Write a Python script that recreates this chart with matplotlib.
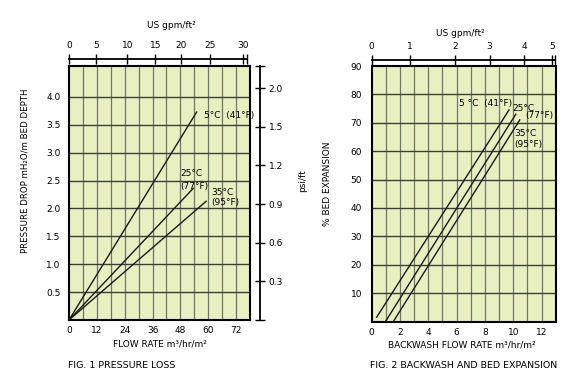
import numpy as np
import matplotlib.pyplot as plt

# ---- data, fig 1 (pressure loss) ----
p5_x = [0, 55.0]
p5_y = [0, 3.73]
p25_x = [0, 53.5]
p25_y = [0, 2.36]
p35_x = [0, 59.1]
p35_y = [0, 2.13]
bot1_ticks = [0, 12, 24, 36, 48, 60, 72]
left1_ticks = [0.5, 1.0, 1.5, 2.0, 2.5, 3.0, 3.5, 4.0]
psi_ticks = [0.3, 0.6, 0.9, 1.2, 1.5, 1.8]
psi_labels = ["0.3", "0.6", "0.9", "1.2", "1.5", "2.0"]
gpm1_labels = ["0", "5", "10", "15", "20", "25", "30"]
gpm1_pos = [0, 11.8, 25.2, 37.2, 48.4, 60.8, 75.1]

# ---- data, fig 2 (backwash) ----
b5_x = [0.35, 9.70]
b5_y = [1.5, 74.5]
b25_x = [1.0, 10.18]
b25_y = [0.2, 73.0]
b35_x = [1.53, 10.46]
b35_y = [0.0, 71.0]
bot2_ticks = [0, 2, 4, 6, 8, 10, 12]
left2_ticks = [10, 20, 30, 40, 50, 60, 70, 80, 90]
gpm2_labels = ["0", "1", "2", "3", "4", "5"]
gpm2_pos = [0, 2.7, 5.87, 8.33, 10.77, 12.76]

W, H = 581, 373
bg = '#e8efc0'
vgrid = '#6f776a'
hgrid = '#3a4036'
ink = '#1a1a1a'
fs = 6.5


def px(x, y):
    return x / W, 1 - y / H


fig = plt.figure(figsize=(W / 100, H / 100), dpi=100)

ax1 = fig.add_axes([69 / W, 1 - 320 / H, 181 / W, 254 / H])
ax2 = fig.add_axes([371.7 / W, 1 - 321.5 / H, 184 / W, 255.5 / H])

# ---------- fig 1 ----------
ax1.set_facecolor(bg)
ax1.set_xlim(0, 78)
ax1.set_ylim(0, 4.556)
for x in np.arange(6, 78, 6):
    ax1.axvline(x, color=vgrid, lw=0.9, zorder=1)
for y in np.arange(0.5, 4.5, 0.5):
    ax1.axhline(y, color=hgrid, lw=1.0, zorder=1)
ax1.plot(p5_x, p5_y, color=ink, lw=1.0, zorder=3)
ax1.plot(p25_x, p25_y, color=ink, lw=1.0, zorder=3)
ax1.plot(p35_x, p35_y, color=ink, lw=1.0, zorder=3)
ax1.set_xticks(bot1_ticks)
ax1.set_yticks(left1_ticks, labels=[f"{v:.1f}" for v in left1_ticks])
ax1.tick_params(axis='x', length=0, labelsize=fs, pad=4)
ax1.tick_params(axis='y', length=0, labelsize=fs, pad=6)
for s in ax1.spines.values():
    s.set_linewidth(1.5)

ax1.text(58.2, 3.66, "5°C  (41°F)", fontsize=fs, va='center', ha='left')
ax1.text(47.8, 2.62, "25°C", fontsize=fs, va='center', ha='left')
ax1.text(47.8, 2.40, "(77°F)", fontsize=fs, va='center', ha='left')
ax1.text(61.5, 2.28, "35°C", fontsize=fs, va='center', ha='left')
ax1.text(61.5, 2.10, "(95°F)", fontsize=fs, va='center', ha='left')

psi = ax1.secondary_yaxis(1.054, functions=(lambda m: m * 0.433, lambda p: p / 0.433))
psi.set_yticks([0] + psi_ticks + [1.972], labels=[""] + psi_labels + [""])
psi.tick_params(direction='inout', length=7, width=1.0, labelsize=fs, pad=3)
psi.spines['right'].set_linewidth(1.3)

top1 = ax1.secondary_xaxis(1.0276, functions=(lambda v: v, lambda v: v))
top1.set_xticks(gpm1_pos + [76.8], labels=gpm1_labels + [""])
top1.tick_params(direction='inout', length=6.5, width=1.0, labelsize=fs, pad=3)
top1.spines['top'].set_bounds(0, 76.8)
top1.spines['top'].set_linewidth(1.3)

# ---------- fig 2 ----------
ax2.set_facecolor(bg)
ax2.set_xlim(0, 13)
ax2.set_ylim(0, 90)
for x in np.arange(1, 13, 1):
    ax2.axvline(x, color=vgrid, lw=0.9, zorder=1)
for y in np.arange(10, 90, 10):
    ax2.axhline(y, color=hgrid, lw=1.0, zorder=1)
ax2.plot(b5_x, b5_y, color=ink, lw=1.0, zorder=3)
ax2.plot(b25_x, b25_y, color=ink, lw=1.0, zorder=3)
ax2.plot(b35_x, b35_y, color=ink, lw=1.0, zorder=3)
ax2.set_xticks(bot2_ticks)
ax2.set_yticks(left2_ticks)
ax2.tick_params(axis='x', length=0, labelsize=fs, pad=5)
ax2.tick_params(axis='y', length=0, labelsize=fs, pad=7)
for s in ax2.spines.values():
    s.set_linewidth(1.5)

ax2.text(6.15, 76.8, "5 °C  (41°F)", fontsize=fs, va='center', ha='left')
ax2.text(9.95, 75.1, "25°C", fontsize=fs, va='center', ha='left')
ax2.text(10.85, 72.4, "(77°F)", fontsize=fs, va='center', ha='left')
ax2.text(10.1, 66.3, "35°C", fontsize=fs, va='center', ha='left')
ax2.text(10.05, 62.5, "(95°F)", fontsize=fs, va='center', ha='left')

top2 = ax2.secondary_xaxis(1.0235, functions=(lambda v: v, lambda v: v))
top2.set_xticks(gpm2_pos + [12.98], labels=gpm2_labels + [""])
top2.tick_params(direction='inout', length=6.5, width=1.0, labelsize=fs, pad=3)
top2.spines['top'].set_bounds(0, 12.98)
top2.spines['top'].set_linewidth(1.3)

# ---------- titles / labels ----------
fig.text(*px(171, 25), "US gpm/ft²", fontsize=fs, ha='center', va='center')
fig.text(*px(460, 34), "US gpm/ft²", fontsize=fs, ha='center', va='center')
fig.text(*px(160, 344), "FLOW RATE m³/hr/m²", fontsize=fs, ha='center', va='center')
fig.text(*px(462, 345), "BACKWASH FLOW RATE m³/hr/m²", fontsize=fs, ha='center', va='center')
fig.text(*px(25, 171), "PRESSURE DROP mH₂O/m BED DEPTH", fontsize=6.2,
         rotation=90, ha='center', va='center')
fig.text(*px(303, 181), "psi/ft", fontsize=fs, rotation=90, ha='center', va='center')
fig.text(*px(327, 184), "% BED EXPANSION", fontsize=fs, rotation=90, ha='center', va='center')
fig.text(*px(68, 365), "FIG. 1 PRESSURE LOSS", fontsize=6.8, ha='left', va='center')
fig.text(*px(370, 366), "FIG. 2 BACKWASH AND BED EXPANSION", fontsize=6.8, ha='left', va='center')

fig.savefig("out.png", dpi=100)
